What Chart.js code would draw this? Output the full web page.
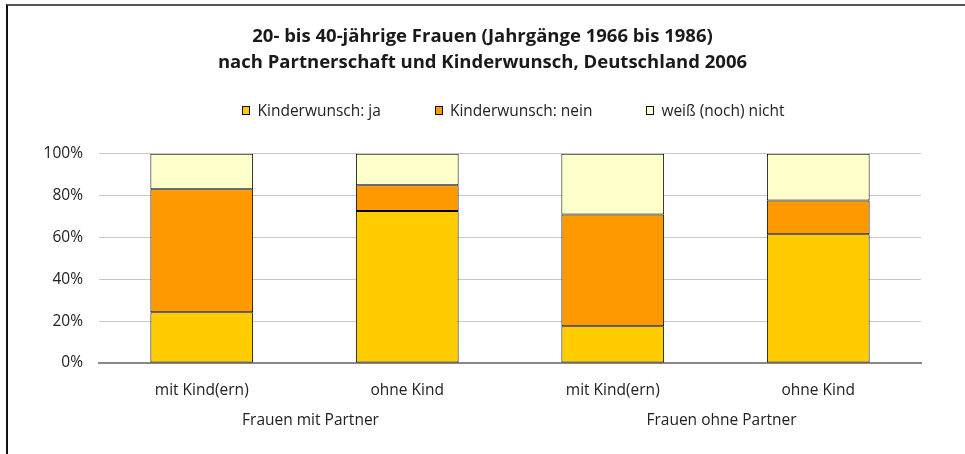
<!DOCTYPE html>
<html lang="de">
<head>
<meta charset="utf-8">
<script src="https://cdn.jsdelivr.net/npm/chart.js@4"></script>
<style>
    html, body { margin: 0; padding: 0; background: #fff; }
    .wrap { position: relative; width: 965px; height: 454px; overflow: hidden; }
    .frame {
        position: absolute; left: 6px; top: 4px; right: 0; bottom: -2px;
        border-top: 2px solid #555; border-left: 2px solid #111;
    }
    canvas { position: absolute; left: 0; top: 0; }
    .custom-legend {
        position: absolute; left: 0; right: 0; top: 100px;
        display: flex; justify-content: center; gap: 54px;
        list-style: none; margin: 0; padding: 0 0 0 62px;
        font-family: "Open Sans", sans-serif; font-size: 15.5px; color: #222;
    }
    .custom-legend li { display: flex; align-items: center; line-height: 20px; }
    .legend-color {
        display: inline-block; width: 6px; height: 7px;
        border: 1px solid #111; margin-right: 7px;
    }
</style>
</head>
<body>
<div class="wrap">
    <div class="frame"></div>
    <canvas id="chart" width="965" height="454"></canvas>
    <ul class="custom-legend"></ul>
</div>
<script>
const categories = ['mit Kind(ern)', 'ohne Kind', 'mit Kind(ern)', 'ohne Kind'];
const groups = ['Frauen mit Partner', 'Frauen ohne Partner'];
const seriesNames = ['Kinderwunsch: ja', 'Kinderwunsch: nein', 'weiß (noch) nicht'];
const wunschJa = [24.3, 72.6, 17.6, 61.6];
const wunschNein = [58.7, 12.4, 53.4, 16.1];
const weissNicht = [17.0, 15.0, 29.0, 22.3];
const colors = ['#FFCC00', '#FF9900', '#FFFFCC'];
const yTicks = [0, 20, 40, 60, 80, 100];

document.addEventListener('DOMContentLoaded', function() {
    const ctx = document.getElementById('chart').getContext('2d');
    const values = [wunschJa, wunschNein, weissNicht];
    const font = 'Open Sans';

    const data = {
        labels: categories,
        datasets: seriesNames.map((name, i) => ({
            label: name,
            data: values[i],
            backgroundColor: colors[i],
            borderColor: '#000',
            borderWidth: 1,
            borderSkipped: false,
            barPercentage: 0.5,
            categoryPercentage: 1.0
        }))
    };

    new Chart(ctx, {
        type: 'bar',
        data: data,
        options: {
            responsive: false,
            animation: false,
            layout: { padding: { left: 44, right: 44, top: 0, bottom: 0 } },
            plugins: {
                legend: { display: false },
                tooltip: { enabled: false },
                title: {
                    display: true,
                    text: ['20- bis 40-jährige Frauen (Jahrgänge 1966 bis 1986)',
                           'nach Partnerschaft und Kinderwunsch, Deutschland 2006'],
                    color: '#1a1a1a',
                    font: { family: font, size: 18.5, weight: 'bold', lineHeight: 1.4 },
                    padding: { top: 24, bottom: 78 }
                }
            },
            scales: {
                x: {
                    stacked: true,
                    weight: 0,
                    grid: { display: false, drawTicks: false },
                    border: { display: true, color: '#888', width: 2 },
                    ticks: { color: '#222', padding: 18, font: { family: font, size: 15.5 } },
                    afterFit: function(scale) { scale.height = 40; }
                },
                x2: {
                    type: 'category',
                    position: 'bottom',
                    labels: groups,
                    offset: true,
                    weight: 1,
                    grid: { display: false, drawTicks: false },
                    border: { display: false },
                    ticks: { color: '#222', padding: 8, labelOffset: 6, font: { family: font, size: 15.5 } },
                    afterFit: function(scale) { scale.height = 51; }
                },
                y: {
                    stacked: true,
                    min: 0,
                    max: 100,
                    afterBuildTicks: function(scale) {
                        scale.ticks = yTicks.map(v => ({ value: v }));
                    },
                    grid: { color: '#c8c8c8', lineWidth: 1, drawTicks: false },
                    border: { display: false },
                    ticks: {
                        color: '#222', padding: 16,
                        font: { family: font, size: 15.5 },
                        callback: v => v + '%'
                    },
                    afterFit: function(scale) { scale.width = 55; }
                }
            }
        }
    });

    // Legende als HTML
    const legendContainer = document.querySelector('.custom-legend');
    let legendHTML = '';
    for (let i = 0; i < seriesNames.length; i++) {
        legendHTML += `<li><span class="legend-color" style="background-color: ${colors[i]}"></span>${seriesNames[i]}</li>`;
    }
    legendContainer.innerHTML = legendHTML;
});
</script>
</body>
</html>
